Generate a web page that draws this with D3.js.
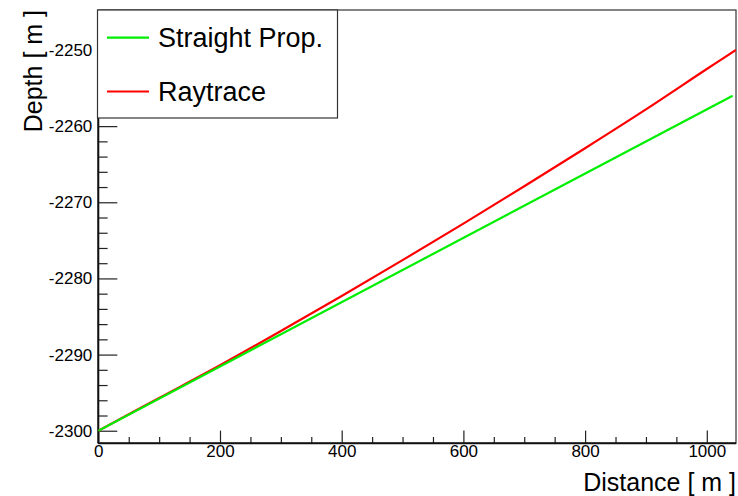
<!DOCTYPE html>
<html>
<head>
<meta charset="utf-8">
<script src="https://cdn.jsdelivr.net/npm/d3@7"></script>
<style>
  body { margin: 0; background: #fff; }
  svg { display: block; font-family: "Liberation Sans", Arial, Helvetica, sans-serif; }
</style>
</head>
<body>
<div id="chart"></div>
<script>
// values (distance in m, depth in m)
const straightDist = [0, 1042.5];
const straightDepth = [-2300, -2256.0];

const raytraceDist = [0, 100, 200, 300, 400, 500, 600, 700, 800, 900, 1000, 1048];
const raytraceDepth = [-2300, -2295.7, -2291.4, -2286.9, -2282.3, -2277.6, -2272.8, -2267.9, -2262.9, -2257.8, -2252.5, -2250.0];

const xMajor = [0, 200, 400, 600, 800, 1000];
const xMinor = [50, 100, 150, 250, 300, 350, 450, 500, 550, 650, 700, 750, 850, 900, 950];
const yMajor = [-2300, -2290, -2280, -2270, -2260, -2250];
const yMinor = [-2298, -2296, -2294, -2292, -2288, -2286, -2284, -2282, -2278, -2276, -2274, -2272,
  -2268, -2266, -2264, -2262, -2258, -2256, -2254, -2252, -2248, -2246];

const legendItems = ["Straight Prop.", "Raytrace"];
const legendColors = ["#00ee00", "#ff0000"];

const width = 738, height = 496;
const frame = { left: 98.3, right: 736, top: 10, bottom: 443.3 };

const x = d3.scaleLinear().domain([0, 1048]).range([frame.left, frame.right]);
const y = d3.scaleLinear().domain([-2301.65, -2244.75]).range([frame.bottom, frame.top]);

// plain hyphen for negatives, like the original
const fmt = d => String(d);

const svg = d3.select("#chart")
  .append("svg")
  .attr("width", width)
  .attr("height", height);

svg.append("defs").append("clipPath").attr("id", "clip")
  .append("rect")
  .attr("x", frame.left).attr("y", frame.top)
  .attr("width", frame.right - frame.left).attr("height", frame.bottom - frame.top);

// frame
svg.append("rect")
  .attr("x", frame.left).attr("y", frame.top)
  .attr("width", frame.right - frame.left).attr("height", frame.bottom - frame.top)
  .attr("fill", "none").attr("stroke", "#333").attr("stroke-width", 1.2);

// x ticks
const gx = svg.append("g").attr("transform", `translate(0,${frame.bottom})`);
gx.call(d3.axisBottom(x).tickValues(xMajor).tickSize(-12.7).tickPadding(20).tickFormat(fmt));
gx.append("g").call(d3.axisBottom(x).tickValues(xMinor).tickSize(-6.3).tickFormat(""));

// y ticks
const gy = svg.append("g").attr("transform", `translate(${frame.left},0)`);
gy.call(d3.axisLeft(y).tickValues(yMajor).tickSize(-19).tickPadding(6).tickFormat(fmt));
gy.append("g").call(d3.axisLeft(y).tickValues(yMinor).tickSize(-9.3).tickFormat(""));

svg.selectAll(".domain").remove();
svg.selectAll(".tick line").attr("stroke", "#222").attr("stroke-width", 1.2);
svg.selectAll(".tick text")
  .attr("fill", "#000")
  .style("font-size", "17px")
  .style("font-family", "'Liberation Sans', Arial, Helvetica, sans-serif");
gx.selectAll(".tick text").attr("dy", "0.45em").attr("y", 6);

// axis lines
svg.append("line")
  .attr("x1", frame.left).attr("x2", frame.right)
  .attr("y1", frame.bottom).attr("y2", frame.bottom)
  .attr("stroke", "#111").attr("stroke-width", 2);
svg.append("line")
  .attr("x1", frame.left).attr("x2", frame.left)
  .attr("y1", frame.top).attr("y2", frame.bottom)
  .attr("stroke", "#111").attr("stroke-width", 2);

// curves
const line = d3.line().x(d => x(d[0])).y(d => y(d[1]));
const plot = svg.append("g").attr("clip-path", "url(#clip)");

plot.append("path")
  .datum(d3.zip(raytraceDist, raytraceDepth))
  .attr("d", line.curve(d3.curveCatmullRom))
  .attr("fill", "none")
  .attr("stroke", legendColors[1])
  .attr("stroke-width", 2.2);

plot.append("path")
  .datum(d3.zip(straightDist, straightDepth))
  .attr("d", line.curve(d3.curveLinear))
  .attr("fill", "none")
  .attr("stroke", legendColors[0])
  .attr("stroke-width", 2.2);

// axis titles
svg.append("text")
  .attr("x", frame.right).attr("y", 491)
  .attr("text-anchor", "end")
  .style("font-size", "25px")
  .text("Distance [ m ]");

svg.append("text")
  .attr("transform", `translate(42,${frame.top}) rotate(-90)`)
  .attr("text-anchor", "end")
  .style("font-size", "25px")
  .text("Depth [ m ]");

// legend
const legend = svg.append("g");
legend.append("rect")
  .attr("x", 97.5).attr("y", 10)
  .attr("width", 240).attr("height", 108)
  .attr("fill", "#fff").attr("stroke", "#333").attr("stroke-width", 1.2);

const rows = legend.selectAll(".row")
  .data(legendItems)
  .enter()
  .append("g")
  .attr("class", "row")
  .attr("transform", (d, i) => `translate(0,${37.7 + i * 53.8})`);

rows.append("line")
  .attr("x1", 107).attr("x2", 149)
  .attr("stroke", (d, i) => legendColors[i])
  .attr("stroke-width", 2.2);

rows.append("text")
  .attr("x", 158).attr("dy", "0.36em")
  .style("font-size", "27px")
  .text(d => d);
</script>
</body>
</html>
